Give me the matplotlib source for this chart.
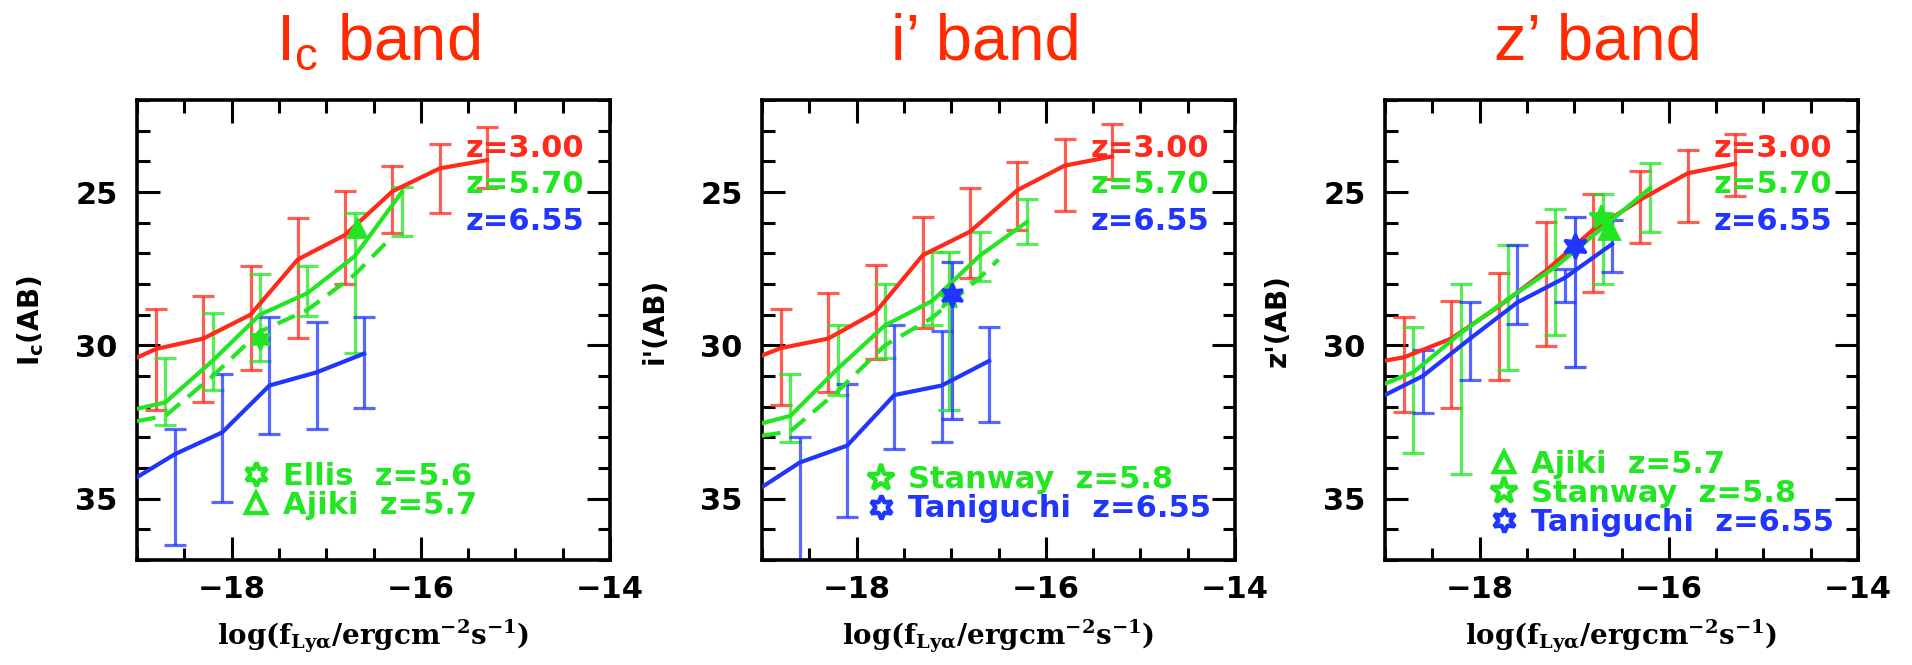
import numpy as np
import matplotlib.pyplot as plt
from matplotlib.lines import Line2D
from matplotlib.ticker import MultipleLocator

plt.rcParams['mathtext.default'] = 'regular'

RED = '#ff2a1a'
GREEN = '#22e622'
BLUE = '#2036ff'
TITLE = '#ff2a00'

# flux bins (log f_Lya), shared by all three bands
edge = -19.0
logf_z300 = [-18.8, -18.3, -17.8, -17.3, -16.8, -16.3, -15.8, -15.3]
logf_z570 = [-18.7, -18.2, -17.7, -17.2, -16.7, -16.2]
logf_z655 = [-18.6, -18.1, -17.6, -17.1, -16.6]

# Ic band: mag, top of error bar, bottom of error bar, value at left edge
ic_z300 = [30.12, 29.78, 29.0, 27.2, 26.4, 24.98, 24.23, 23.96]
ic_z300_top = [28.8, 28.4, 27.4, 25.86, 24.96, 24.14, 23.44, 22.88]
ic_z300_bot = [32.1, 31.86, 30.8, 29.75, 28.0, 26.35, 25.67, 24.88]
ic_z300_edge = 30.4
ic_z570 = [31.86, 30.5, 29.0, 28.3, 27.1, 25.0]
ic_z570_top = [30.4, 28.95, 27.67, 27.41, 25.7, 24.84]
ic_z570_bot = [32.6, 31.45, 30.5, 29.04, 30.25, 26.45]
ic_z570_edge = 32.07
ic_z570_dash_x = [-19.0, -18.7, -18.2, -17.7, -17.2, -16.7, -16.35]
ic_z570_dash = [32.47, 32.3, 31.0, 29.55, 28.85, 27.7, 26.6]
ic_z655 = [33.55, 32.84, 31.31, 30.88, 30.27]
ic_z655_top = [32.72, 30.94, 29.07, 29.23, 29.07]
ic_z655_bot = [36.5, 35.1, 32.9, 32.72, 32.05]
ic_z655_edge = 34.3

# i' band
ip_z300 = [30.09, 29.78, 28.92, 27.06, 26.29, 24.94, 24.14, 23.84]
ip_z300_top = [28.82, 28.28, 27.39, 25.8, 24.88, 24.02, 23.28, 22.77]
ip_z300_bot = [31.96, 31.53, 30.45, 29.45, 27.82, 26.23, 25.61, 24.57]
ip_z300_edge = 30.33
ip_z570 = [32.3, 30.76, 29.35, 28.55, 27.08, 25.98]
ip_z570_top = [30.94, 29.35, 28.0, 26.96, 26.29, 25.22]
ip_z570_bot = [33.15, 31.62, 30.4, 29.35, 27.9, 26.69]
ip_z570_edge = 32.54
ip_z570_dash_x = [-19.0, -18.7, -18.2, -17.7, -17.2, -16.7, -16.5]
ip_z570_dash = [32.95, 32.8, 31.5, 30.0, 29.1, 27.8, 27.2]
ip_z655 = [33.82, 33.27, 31.62, 31.31, 30.51]
ip_z655_top = [33.0, 31.27, 29.35, 29.53, 29.41]
ip_z655_bot = [37.5, 35.6, 33.39, 33.15, 32.5]
ip_z655_edge = 34.62

# z' band
zp_z300 = [30.39, 29.78, 28.74, 27.57, 26.23, 25.25, 24.39, 24.08]
zp_z300_top = [29.07, 28.55, 27.63, 25.98, 25.06, 24.3, 23.63, 23.1]
zp_z300_bot = [32.17, 32.05, 31.13, 30.02, 28.25, 26.65, 25.98, 25.12]
zp_z300_edge = 30.5
zp_z570 = [30.88, 29.6, 28.49, 27.45, 26.16, 24.88]
zp_z570_top = [29.41, 28.0, 26.72, 25.55, 25.06, 24.05]
zp_z570_bot = [33.52, 34.2, 30.82, 29.66, 28.0, 26.29]
zp_z570_edge = 31.25
zp_z655 = [31.0, 29.78, 28.6, 27.8, 26.7]
zp_z655_top = [30.15, 28.6, 26.72, 27.5, 25.9]
zp_z655_bot = [32.2, 31.13, 29.29, 28.6, 27.6]
zp_z655_edge = 31.62

# observed points: logf, mag (, error top, error bottom)
ellis_ic = (-17.70, 29.78)
ajiki_ic = (-16.67, 26.16)
stanway_ip = (-17.02, 28.43, 26.97, 32.1)
taniguchi_ip = (-16.99, 28.36, 27.27, 32.4)
ajiki_zp = (-16.63, 26.2)
stanway_zp = (-16.72, 25.8)
taniguchi_zp = (-16.99, 26.75, 25.8, 30.7)

titles = [r'I$_c$ band', 'i\u2019 band', 'z\u2019 band']
ylabels = [r'I$_c$(AB)', "i'(AB)", "z'(AB)"]
zlabels = ['z=3.00', 'z=5.70', 'z=6.55']

hexagram = (6, 1, 0)

fig = plt.figure(figsize=(19.12, 6.65), dpi=100)
W, H = 1912.0, 665.0
lefts = [137, 762, 1385]
title_x = [378, 986, 1598]

LW = 3.0
ELW = 2.3


def model(ax, x, y, top, bot, edge_y, color):
    y = np.array(y)
    ax.plot([edge] + list(x), [edge_y] + list(y), color=color, lw=LW, zorder=3)
    ax.errorbar(x, y, yerr=[y - np.array(top), np.array(bot) - y], fmt='none',
                ecolor=color, elinewidth=ELW, capsize=8, capthick=ELW, alpha=0.75, zorder=2)


def obs(ax, pt, color):
    ax.errorbar(pt[0], pt[1], yerr=[[pt[1] - pt[2]], [pt[3] - pt[1]]], fmt='none',
                ecolor=color, elinewidth=ELW, capsize=8, capthick=ELW, alpha=0.8, zorder=2)


panels = [
    [(ic_z300, ic_z300_top, ic_z300_bot, ic_z300_edge),
     (ic_z570, ic_z570_top, ic_z570_bot, ic_z570_edge),
     (ic_z655, ic_z655_top, ic_z655_bot, ic_z655_edge)],
    [(ip_z300, ip_z300_top, ip_z300_bot, ip_z300_edge),
     (ip_z570, ip_z570_top, ip_z570_bot, ip_z570_edge),
     (ip_z655, ip_z655_top, ip_z655_bot, ip_z655_edge)],
    [(zp_z300, zp_z300_top, zp_z300_bot, zp_z300_edge),
     (zp_z570, zp_z570_top, zp_z570_bot, zp_z570_edge),
     (zp_z655, zp_z655_top, zp_z655_bot, zp_z655_edge)],
]
dashes = [(ic_z570_dash_x, ic_z570_dash), (ip_z570_dash_x, ip_z570_dash), None]

font_b = dict(family='DejaVu Sans', weight='bold', size=22)

for i in range(3):
    ax = fig.add_axes([lefts[i] / W, 105 / H, 473 / W, 460 / H])
    for (y, top, bot, ey), x, c in zip(panels[i], [logf_z300, logf_z570, logf_z655], [RED, GREEN, BLUE]):
        model(ax, x, y, top, bot, ey, c)
    if dashes[i] is not None:
        ax.plot(dashes[i][0], dashes[i][1], color=GREEN, lw=LW, dashes=(4.5, 2.5), zorder=3)

    if i == 0:
        ax.plot(*ellis_ic, ls='none', marker=hexagram, ms=15, mfc=GREEN, mec=GREEN, mew=2, zorder=4)
        ax.plot(*ajiki_ic, ls='none', marker='^', ms=13, mfc=GREEN, mec=GREEN, mew=2, zorder=4)
        handles = [Line2D([], [], ls='none', marker=hexagram, ms=17, mfc='none', mec=GREEN, mew=3.2),
                   Line2D([], [], ls='none', marker='^', ms=15, mfc='none', mec=GREEN, mew=3.2)]
        labels = ['Ellis  z=5.6', 'Ajiki  z=5.7']
        lcol = [GREEN, GREEN]
        leg_y = 0.088
    elif i == 1:
        for pt, c, m in [(stanway_ip, GREEN, '*'), (taniguchi_ip, BLUE, hexagram)]:
            obs(ax, pt, c)
            ax.plot(pt[0], pt[1], ls='none', marker=m, ms=17, mfc=c, mec=c, mew=2, zorder=4)
        handles = [Line2D([], [], ls='none', marker='*', ms=20, mfc='none', mec=GREEN, mew=3.2),
                   Line2D([], [], ls='none', marker=hexagram, ms=17, mfc='none', mec=BLUE, mew=3.2)]
        labels = ['Stanway  z=5.8', 'Taniguchi  z=6.55']
        lcol = [GREEN, BLUE]
        leg_y = 0.08
    else:
        obs(ax, taniguchi_zp, BLUE)
        ax.plot(taniguchi_zp[0], taniguchi_zp[1], ls='none', marker=hexagram, ms=18,
                mfc=BLUE, mec=BLUE, mew=2, zorder=4)
        ax.plot(*ajiki_zp, ls='none', marker='^', ms=15, mfc=GREEN, mec=GREEN, mew=2, zorder=4)
        ax.plot(*stanway_zp, ls='none', marker='*', ms=18, mfc=GREEN, mec=GREEN, mew=2, zorder=4)
        handles = [Line2D([], [], ls='none', marker='^', ms=15, mfc='none', mec=GREEN, mew=3.2),
                   Line2D([], [], ls='none', marker='*', ms=20, mfc='none', mec=GREEN, mew=3.2),
                   Line2D([], [], ls='none', marker=hexagram, ms=17, mfc='none', mec=BLUE, mew=3.2)]
        labels = ['Ajiki  z=5.7', 'Stanway  z=5.8', 'Taniguchi  z=6.55']
        lcol = [GREEN, GREEN, BLUE]
        leg_y = 0.051

    ax.legend(handles, labels, loc='lower left', bbox_to_anchor=(0.225, leg_y), frameon=False,
              handlelength=0.8, handletextpad=0.5, labelspacing=0.0, borderpad=0, borderaxespad=0,
              labelcolor=lcol, prop=font_b)

    for k, (zl, c) in enumerate(zip(zlabels, [RED, GREEN, BLUE])):
        ax.text(0.945, [0.894, 0.817, 0.735][k], zl, transform=ax.transAxes, ha='right',
                va='center', color=c, **font_b)

    ax.set_xlim(-19, -14)
    ax.set_ylim(37, 22)
    ax.xaxis.set_major_locator(MultipleLocator(2))
    ax.xaxis.set_minor_locator(MultipleLocator(0.5))
    ax.yaxis.set_major_locator(MultipleLocator(5))
    ax.yaxis.set_minor_locator(MultipleLocator(1))
    ax.tick_params(which='both', direction='in', top=True, right=True, width=2.2, colors='black')
    ax.tick_params(which='major', length=16.5)
    ax.tick_params(which='minor', length=9)
    ax.tick_params(axis='x', pad=11)
    ax.tick_params(axis='y', pad=14)
    for lab in ax.get_xticklabels() + ax.get_yticklabels():
        lab.set_fontproperties(font_b)
    for sp in ax.spines.values():
        sp.set_linewidth(2.6)

    ax.set_xlabel(r'log(f$_{Ly\alpha}$/ergcm$^{-2}$s$^{-1}$)', family='DejaVu Serif',
                  weight='bold', size=20)
    ax.xaxis.label.set_va('center')
    ax.xaxis.set_label_coords(0.5, -0.165)
    ax.set_ylabel(ylabels[i], family='DejaVu Sans', weight='bold', size=20)
    ax.yaxis.label.set_va('center')
    ax.yaxis.set_label_coords(-0.226, 0.52)

    fig.text(title_x[i] / W, 1 - 60 / H, titles[i], ha='center', va='baseline',
             color=TITLE, family='Liberation Sans', size=47)

fig.savefig('out.png', dpi=100)
